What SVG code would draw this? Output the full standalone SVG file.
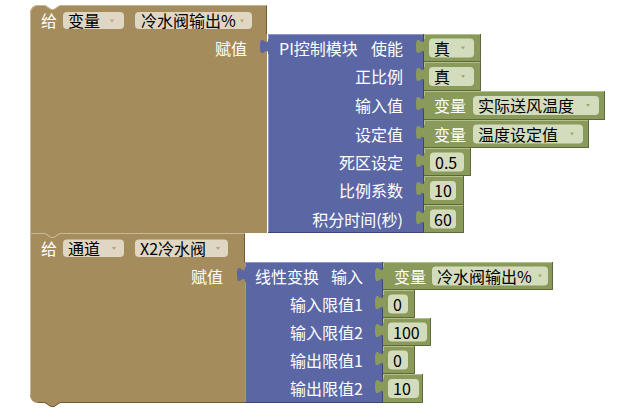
<svg xmlns="http://www.w3.org/2000/svg" width="623" height="417" viewBox="0 0 623 417">
<style>
.tan{fill:#A58C5C}
.blue{fill:#5B67A5}
.green{fill:#8A9A5B}
.hlT{fill:none;stroke:#C9B791;stroke-width:1}
.shT{fill:none;stroke:#6E5B38;stroke-width:1}
.hlB{fill:none;stroke:#8D98CE;stroke-width:1}
.shB{fill:none;stroke:#3D4574;stroke-width:1}
.hlG{fill:none;stroke:#B2C089;stroke-width:1}
.shG{fill:none;stroke:#5C6838;stroke-width:1}
.pT{fill:#DFD6C3}
.pG{fill:#D4DCBE}
.aT{fill:#B3A281}
.aG{fill:#9AAA6B}
text{font-family:"Noto Sans CJK SC","Noto Sans",sans-serif;font-size:16px;fill:#FFFFFF}
text.k{fill:#000000}
text.e{text-anchor:end}
</style>

<g id="connectors"></g>

<g id="set1">
<path class="tan" d="M30,13 A8,8 0 0 1 38,5 H45 l6,4 h3 l6,-4 H267 V233 H60 l-6,4 h-3 l-6,-4 H30 Z"/>
<path class="hlT" d="M30.5,233 V13 A7.5,7.5 0 0 1 38,5.5 H45 l6,4 h3 l6,-4 H266"/>
<path class="shT" d="M266.5,6 V34"/>
<text x="41" y="26.5">给</text>
<rect class="pT" x="63" y="12" width="61" height="17" rx="4"/>
<text class="k" x="68" y="26.5">变量</text>
<polygon class="aT" points="110,19.5 114,19.5 112,22.5"/>
<rect class="pT" x="135" y="12" width="117" height="17" rx="4"/>
<text class="k" x="141" y="26.5">冷水阀输出%</text>
<polygon class="aT" points="240,19.5 244,19.5 242,22.5"/>
<text class="e" x="247" y="54.5">赋值</text>
</g>

<g id="pi">
<path class="blue" d="M268,34 H424 V233 H268 V54 c0,-10 -8,8 -8,-7.5 s8,2.5 8,-7.5 Z"/>
<path class="hlB" d="M268.5,232 V54 M268.5,39 V34.5 H423"/>
<path class="shB" d="M268,232.5 H423.5 V34"/>
<text x="279" y="54.5">PI控制模块</text>
<text class="e" x="403" y="54.5">使能</text>
<text class="e" x="403" y="83">正比例</text>
<text class="e" x="403" y="112">输入值</text>
<text class="e" x="403" y="140.5">设定值</text>
<text class="e" x="403" y="168.5">死区设定</text>
<text class="e" x="403" y="197">比例系数</text>
<text class="e" x="403" y="225.5">积分时间(秒)</text>
</g>

<g id="enable">
<path class="green" d="M424,34 H481 V62 H424 V54 c0,-10 -8,8 -8,-7.5 s8,2.5 8,-7.5 Z"/>
<path class="hlG" d="M424.5,39 V34.5 H480"/>
<path class="shG" d="M424,61.5 H480.5 V34"/>
<rect class="pG" x="429" y="38.5" width="45" height="19" rx="4"/>
<text class="k" x="434" y="54.5">真</text>
<polygon class="aG" points="461,46.5 465,46.5 463,49.5"/>
</g>

<g id="prop">
<path class="green" d="M424,62 H481 V91 H424 V82 c0,-10 -8,8 -8,-7.5 s8,2.5 8,-7.5 Z"/>
<path class="hlG" d="M424.5,67 V62.5 H480"/>
<path class="shG" d="M424,90.5 H480.5 V62"/>
<rect class="pG" x="429" y="67" width="45" height="19" rx="4"/>
<text class="k" x="434" y="83">真</text>
<polygon class="aG" points="461,75 465,75 463,78"/>
</g>

<g id="input">
<path class="green" d="M424,91 H605 V120 H424 V111 c0,-10 -8,8 -8,-7.5 s8,2.5 8,-7.5 Z"/>
<path class="hlG" d="M424.5,96 V91.5 H604"/>
<path class="shG" d="M424,119.5 H604.5 V91"/>
<text x="434" y="112">变量</text>
<rect class="pG" x="473" y="96" width="126" height="19" rx="4"/>
<text class="k" x="478" y="112">实际送风温度</text>
<polygon class="aG" points="586,104 590,104 588,107"/>
</g>

<g id="setpoint">
<path class="green" d="M424,120 H589 V148 H424 V140 c0,-10 -8,8 -8,-7.5 s8,2.5 8,-7.5 Z"/>
<path class="hlG" d="M424.5,125 V120.5 H588"/>
<path class="shG" d="M424,147.5 H588.5 V120"/>
<text x="434" y="140.5">变量</text>
<rect class="pG" x="473" y="124.5" width="110" height="19" rx="4"/>
<text class="k" x="478" y="140.5">温度设定值</text>
<polygon class="aG" points="570,132.5 574,132.5 572,135.5"/>
</g>

<g id="deadband">
<path class="green" d="M424,148 H471 V176 H424 V168 c0,-10 -8,8 -8,-7.5 s8,2.5 8,-7.5 Z"/>
<path class="hlG" d="M424.5,153 V148.5 H470"/>
<path class="shG" d="M424,175.5 H470.5 V148"/>
<rect class="pG" x="430" y="152.5" width="34" height="19" rx="4"/>
<text class="k" x="435" y="168.5">0.5</text>
</g>

<g id="gain">
<path class="green" d="M424,176 H464 V205 H424 V196 c0,-10 -8,8 -8,-7.5 s8,2.5 8,-7.5 Z"/>
<path class="hlG" d="M424.5,181 V176.5 H463"/>
<path class="shG" d="M424,204.5 H463.5 V176"/>
<rect class="pG" x="430" y="181" width="26" height="19" rx="4"/>
<text class="k" x="434" y="197">10</text>
</g>

<g id="integral">
<path class="green" d="M424,205 H464 V233 H424 V225 c0,-10 -8,8 -8,-7.5 s8,2.5 8,-7.5 Z"/>
<path class="hlG" d="M424.5,210 V205.5 H463"/>
<path class="shG" d="M424,232.5 H463.5 V205"/>
<rect class="pG" x="430" y="209.5" width="26" height="19" rx="4"/>
<text class="k" x="434" y="225.5">60</text>
</g>

<g id="set2">
<path class="tan" d="M30,233 H45 l6,4 h3 l6,-4 H245 V403 H60 l-6,4 h-3 l-6,-4 H38 A8,8 0 0 1 30,395 Z"/>
<path class="hlT" d="M30.5,395 V233.5 H45 l6,4 h3 l6,-4 H244"/>
<path class="shT" d="M38,402.5 H45 l6,4 h3 l6,-4 H245 M244.5,234 V262"/>
<text x="41" y="254.5">给</text>
<rect class="pT" x="63" y="239.5" width="61" height="17.5" rx="4"/>
<text class="k" x="68" y="254.5">通道</text>
<polygon class="aT" points="112,247 116,247 114,250"/>
<rect class="pT" x="135" y="239.5" width="93" height="17.5" rx="4"/>
<text class="k" x="140" y="254.5">X2冷水阀</text>
<polygon class="aT" points="216,247 220,247 218,250"/>
<text class="e" x="223" y="282.5">赋值</text>
</g>

<g id="linear">
<path class="blue" d="M245,262 H383 V403 H245 V282 c0,-10 -8,8 -8,-7.5 s8,2.5 8,-7.5 Z"/>
<path class="hlB" d="M245.5,402 V282 M245.5,267 V262.5 H382"/>
<path class="shB" d="M245,402.5 H382.5 V262"/>
<text x="255" y="282.5">线性变换</text>
<text class="e" x="363" y="282.5">输入</text>
<text class="e" x="363" y="310.5">输入限值1</text>
<text class="e" x="363" y="338.5">输入限值2</text>
<text class="e" x="363" y="366.5">输出限值1</text>
<text class="e" x="363" y="395">输出限值2</text>
</g>

<g id="linInput">
<path class="green" d="M383,262 H553 V290 H383 V282 c0,-10 -8,8 -8,-7.5 s8,2.5 8,-7.5 Z"/>
<path class="hlG" d="M383.5,267 V262.5 H552"/>
<path class="shG" d="M383,289.5 H552.5 V262"/>
<text x="394" y="282.5">变量</text>
<rect class="pG" x="432" y="266.5" width="116" height="19" rx="4"/>
<text class="k" x="437" y="282.5">冷水阀输出%</text>
<polygon class="aG" points="538,274.5 542,274.5 540,277.5"/>
</g>

<g id="inMin">
<path class="green" d="M383,290 H415 V318 H383 V310 c0,-10 -8,8 -8,-7.5 s8,2.5 8,-7.5 Z"/>
<path class="hlG" d="M383.5,295 V290.5 H414"/>
<path class="shG" d="M383,317.5 H414.5 V290"/>
<rect class="pG" x="388" y="294.5" width="20" height="19" rx="4"/>
<text class="k" x="393" y="310.5">0</text>
</g>

<g id="inMax">
<path class="green" d="M383,318 H431 V346 H383 V338 c0,-10 -8,8 -8,-7.5 s8,2.5 8,-7.5 Z"/>
<path class="hlG" d="M383.5,323 V318.5 H430"/>
<path class="shG" d="M383,345.5 H430.5 V318"/>
<rect class="pG" x="388" y="322.5" width="39" height="19" rx="4"/>
<text class="k" x="393" y="338.5">100</text>
</g>

<g id="outMin">
<path class="green" d="M383,346 H415 V374 H383 V366 c0,-10 -8,8 -8,-7.5 s8,2.5 8,-7.5 Z"/>
<path class="hlG" d="M383.5,351 V346.5 H414"/>
<path class="shG" d="M383,373.5 H414.5 V346"/>
<rect class="pG" x="388" y="350.5" width="20" height="19" rx="4"/>
<text class="k" x="393" y="366.5">0</text>
</g>

<g id="outMax">
<path class="green" d="M383,374 H423 V403 H383 V394 c0,-10 -8,8 -8,-7.5 s8,2.5 8,-7.5 Z"/>
<path class="hlG" d="M383.5,379 V374.5 H422"/>
<path class="shG" d="M383,402.5 H422.5 V374"/>
<rect class="pG" x="388" y="379" width="31" height="19" rx="4"/>
<text class="k" x="393" y="395">10</text>
</g>
</svg>
